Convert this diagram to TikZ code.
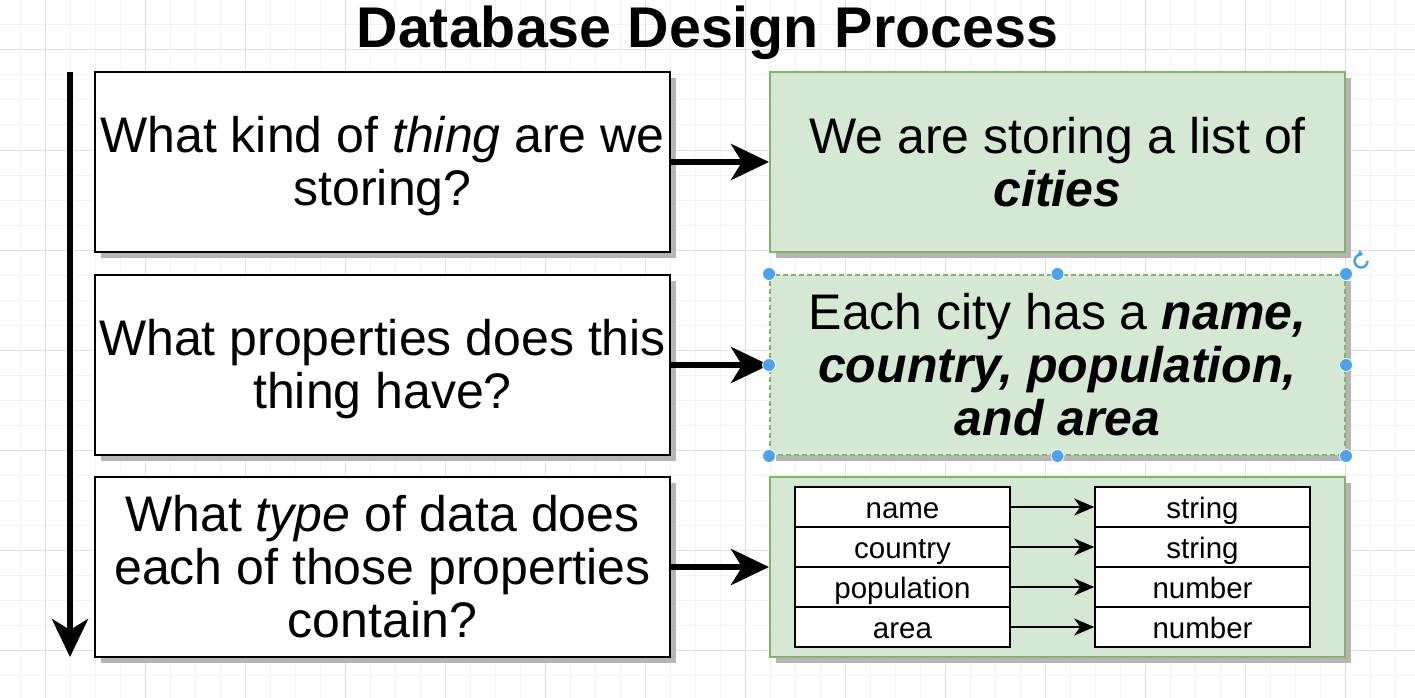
\documentclass[tikz,border=0pt]{standalone}
\usepackage{fontspec}
\setmainfont{Liberation Sans}
\usetikzlibrary{arrows.meta,shadows,calc}

\definecolor{gfill}{HTML}{D5E8D4}
\definecolor{gline}{HTML}{82B366}
\definecolor{shadowc}{HTML}{B5B5B5}
\definecolor{handlec}{HTML}{4DA3E6}
\definecolor{gridminor}{HTML}{F3F3F3}
\definecolor{gridmajor}{HTML}{E0E0E0}

\newcommand{\firstline}{\rule{0pt}{45pt}}

\begin{document}
\begin{tikzpicture}[x=1pt,y=-1pt,
  boxshadow/.style={drop shadow={shadow xshift=6pt, shadow yshift=-6pt, fill=shadowc, opacity=1}},
  qbox/.style={draw=black, line width=2.5pt, fill=white, minimum width=575pt, minimum height=180pt,
    inner sep=0pt, align=center, font=\fontsize{50}{53}\selectfont, boxshadow},
  abox/.style={draw=gline, line width=2pt, fill=gfill, minimum width=575pt, minimum height=180pt,
    inner sep=0pt, align=center, font=\fontsize{50}{53}\selectfont, boxshadow},
  cell/.style={draw=black, line width=1.6pt, fill=white, minimum width=215pt, minimum height=40pt,
    inner sep=0pt, text height=22pt, text depth=0pt, font=\fontsize{29.5}{32}\selectfont},
  bigarrow/.style={line width=6pt, -{Stealth[length=38pt,width=36pt,inset=11pt]}},
  smallarrow/.style={line width=2pt, -{Stealth[length=20pt,width=17pt,inset=6pt]}},
  handle/.style={fill=handlec, draw=white, line width=0.8pt},
  gridmin/.style={draw=gridminor, line width=1pt},
  gridmaj/.style={draw=gridmajor, line width=1pt}
]
\useasboundingbox (0,0) rectangle (1415,698);
\fill[white] (0,0) rectangle (1415,698);

% grid
\foreach \x in {20,45,...,1420} \draw[gridmin] (\x,0) -- (\x,698);
\foreach \y in {0,25,...,700} \draw[gridmin] (0,\y) -- (1415,\y);
\foreach \x in {45,145,...,1445} \draw[gridmaj] (\x,0) -- (\x,698);
\foreach \y in {50,150,...,650} \draw[gridmaj] (0,\y) -- (1415,\y);

% title
\node[anchor=base, font=\fontsize{57.4}{60}\selectfont\bfseries] (title) at (707.5,48) {Database Design Process};

% question boxes
\node[qbox] (q1) at (382.5,162) {\firstline What kind of \textit{thing} are we\\storing?};
\node[qbox] (q2) at (382.5,365) {\firstline What properties does this\\thing have?};
\node[qbox] (q3) at (382.5,567) {What \textit{type} of data does\\each of those properties\\contain?};

% answer boxes
\node[abox] (a1) at (1057.5,162) {We are storing a list of\\\textbf{\textit{cities}}};
\node[abox, dash pattern=on 5pt off 3pt] (a2) at (1057.5,365) {Each city has a \textbf{\textit{name,}}\\\textbf{\textit{country, population,}}\\\textbf{\textit{and area}}};
\node[abox] (a3) at (1057.5,567) {};

% table
\node[cell] (n1) at (902.5,507) {name};
\node[cell] (n2) at (902.5,547) {country};
\node[cell] (n3) at (902.5,587) {population};
\node[cell] (n4) at (902.5,627) {area};
\node[cell] (t1) at (1202.5,507) {string};
\node[cell] (t2) at (1202.5,547) {string};
\node[cell] (t3) at (1202.5,587) {number};
\node[cell] (t4) at (1202.5,627) {number};
\foreach \i in {1,2,3,4} \draw[smallarrow] (n\i.east) -- (t\i.west);

% process arrows
\draw[bigarrow] (q1.east) -- (a1.west);
\draw[bigarrow] (q2.east) -- (a2.west);
\draw[bigarrow] (q3.east) -- (a3.west);

\coordinate (vtop) at (70,72);
\coordinate (vbot) at (70,657);
\draw[bigarrow] (vtop) -- (vbot);

% selection handles
\foreach \a in {north west,north,north east,east,south east,south,south west,west}
  \path[handle] (a2.\a) circle[radius=6.5pt];
\coordinate (rot) at (1361,261);
\draw[handlec, line width=2.5pt, -{Triangle[length=5pt,width=7pt]}] ($(rot)+(6.5,0)$) arc[start angle=0, end angle=290, radius=6.5];
\end{tikzpicture}
\end{document}
